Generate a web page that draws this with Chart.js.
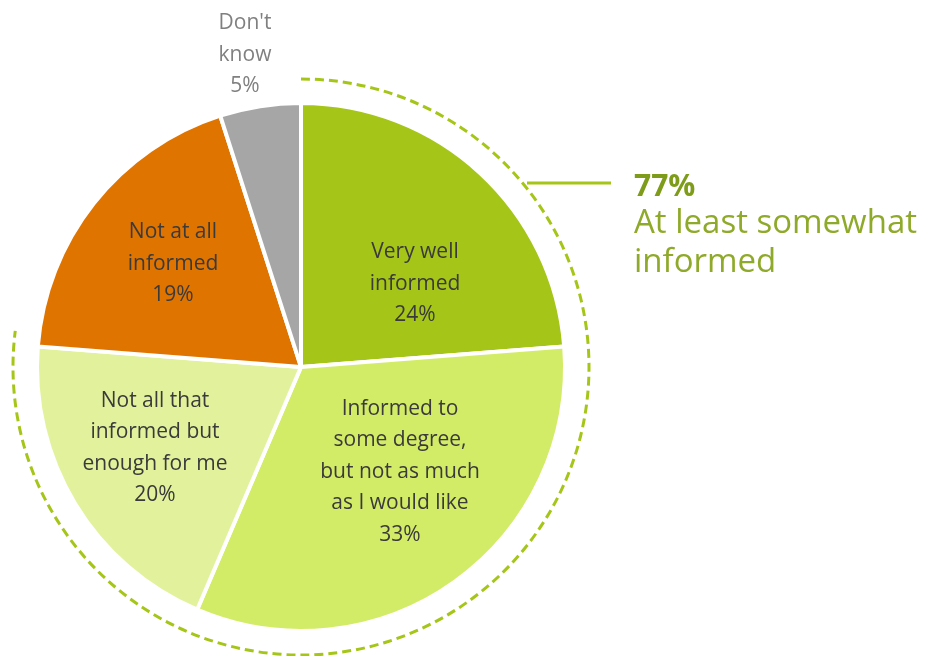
<!DOCTYPE html>
<html>
<head>
<meta charset="utf-8">
<title>How informed</title>
<script src="https://cdn.jsdelivr.net/npm/chart.js@4.4.1/dist/chart.umd.min.js"></script>
<style>
  html, body { margin: 0; padding: 0; background: #fff; }
  #wrap { position: relative; width: 926px; height: 656px; }
</style>
</head>
<body>
<div id="wrap"><canvas id="chart" width="926" height="656"></canvas></div>
<script>
// --- data ---
const categories = [
  'Very well informed',
  'Informed to some degree, but not as much as I would like',
  'Not all that informed but enough for me',
  'Not at all informed',
  "Don't know"
];
const values = [24, 33, 20, 19, 5];
const sliceColors = ['#A5C618', '#D3EC68', '#E2F29C', '#E07400', '#A6A6A6'];
const labelLines = [
  ['Very well', 'informed', '24%'],
  ['Informed to', 'some degree,', 'but not as much', 'as I would like', '33%'],
  ['Not all that', 'informed but', 'enough for me', '20%'],
  ['Not at all', 'informed', '19%'],
  ["Don't", 'know', '5%']
];
const summaryShare = 77; // sum of first three slices, as shown
const summaryText = ['At least somewhat', 'informed'];

// label block centres, relative to pie centre
const labelOffsets = [[114, -83], [99, 105], [-146, 81], [-128, -103], [-56, -312]];
const labelColors = ['#3A3A3A', '#3A3A3A', '#3A3A3A', '#3A3A3A', '#808080'];

const FONT = '"Open Sans", "Noto Sans", sans-serif';

// dashed arc around the "informed" share + callout text
const overlay = {
  id: 'overlay',
  afterDatasetsDraw(chart) {
    const ctx = chart.ctx;
    const arc = chart.getDatasetMeta(0).data[0];
    const cx = arc.x, cy = arc.y;
    const r = 288;
    const start = -Math.PI / 2;
    const end = start + 2 * Math.PI * summaryShare / 100;

    ctx.save();
    ctx.strokeStyle = '#A5C618';
    ctx.lineWidth = 3;
    ctx.setLineDash([9, 5]);
    ctx.beginPath();
    ctx.arc(cx, cy, r, start, end);
    ctx.stroke();

    // connector
    ctx.setLineDash([]);
    ctx.lineWidth = 3;
    ctx.beginPath();
    ctx.moveTo(cx + 226, 183);
    ctx.lineTo(cx + 310, 183);
    ctx.stroke();

    // callout text
    ctx.textAlign = 'left';
    ctx.textBaseline = 'alphabetic';
    ctx.fillStyle = '#7E9C1A';
    ctx.font = 'bold 30px ' + FONT;
    ctx.fillText(summaryShare + '%', 634, 196);
    ctx.fillStyle = '#8FAA2A';
    ctx.font = '33px ' + FONT;
    ctx.fillText(summaryText[0], 634, 233);
    ctx.fillText(summaryText[1], 634, 272);

    // slice labels
    ctx.textAlign = 'center';
    ctx.textBaseline = 'middle';
    ctx.font = '21px ' + FONT;
    const lh = 31.5;
    labelLines.forEach((lines, i) => {
      const [dx, dy] = labelOffsets[i];
      const top = cy + dy - (lines.length - 1) * lh / 2;
      ctx.fillStyle = labelColors[i];
      lines.forEach((t, j) => ctx.fillText(t, cx + dx, top + j * lh));
    });
    ctx.restore();
  }
};

new Chart(document.getElementById('chart'), {
  type: 'pie',
  data: {
    labels: categories,
    datasets: [{
      data: values,
      backgroundColor: sliceColors,
      borderColor: '#ffffff',
      borderWidth: 4
    }]
  },
  options: {
    responsive: false,
    animation: false,
    layout: { padding: { left: 35, right: 359, top: 101, bottom: 23 } },
    plugins: {
      legend: { display: false },
      tooltip: { enabled: false }
    }
  },
  plugins: [overlay]
});
</script>
</body>
</html>
